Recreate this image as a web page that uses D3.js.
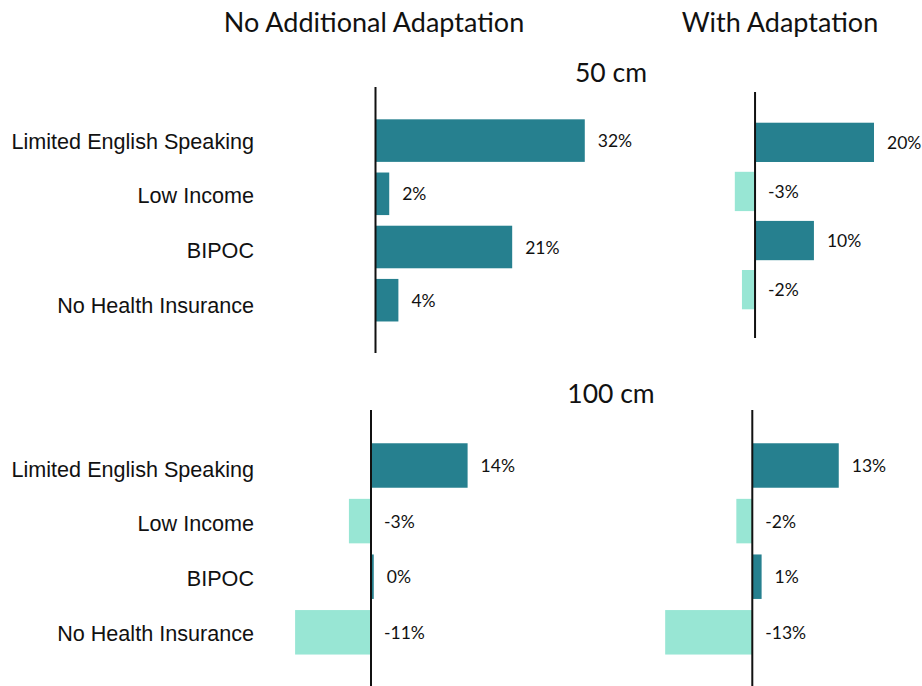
<!DOCTYPE html>
<html>
<head>
<meta charset="utf-8">
<script src="https://cdn.jsdelivr.net/npm/d3@7"></script>
<style>
  body { margin: 0; background: #fff; }
  svg { display: block; }
</style>
</head>
<body>
<div class="chart"></div>
<script>
// data (percent change)
var categories = ["Limited English Speaking", "Low Income", "BIPOC", "No Health Insurance"];
var noAdapt50 = [32.0, 2.1, 20.9, 3.5];
var withAdapt50 = [20.0, -3.4, 9.9, -2.2];
var noAdapt100 = [14.0, -3.2, 0.4, -11.0];
var withAdapt100 = [13.0, -2.4, 1.4, -13.1];
var columnTitles = ["No Additional Adaptation", "With Adaptation"];
var rowTitles = ["50 cm", "100 cm"];

function init() {
  var w = 922;
  var h = 686;
  var darkColor = "#26808f";
  var lightColor = "#98e6d4";
  var valueFont = "Lato, 'Open Sans', sans-serif";

  var svg = d3.select(".chart")
    .append("svg")
    .attr("width", w)
    .attr("height", h);

  // each small chart has its own axis position and scale (like the original)
  var panels = [
    { values: noAdapt50, domain: [0, 35], range: [375.5, 604.4], band: [114, 326.8], axis: [87, 353] },
    { values: withAdapt50, domain: [-5, 22], range: [725.3, 885.9], band: [117.8, 314.2], axis: [92, 338] },
    { values: noAdapt100, domain: [-12, 16], range: [288.2, 481.4], band: [437.7, 660.1], axis: [410, 686] },
    { values: withAdapt100, domain: [-14, 14], range: [659.2, 845.4], band: [437.7, 660.1], axis: [410, 686] }
  ];

  panels.forEach(function(p) {
    var xScale = d3.scaleLinear().domain(p.domain).range(p.range);
    var yScale = d3.scaleBand()
      .domain(categories)
      .range(p.band)
      .paddingInner(0.2)
      .paddingOuter(0.1);

    var rows = categories.map(function(c, i) {
      return { cat: c, value: p.values[i] };
    });

    var g = svg.append("g");

    g.selectAll("rect")
      .data(rows)
      .enter()
      .append("rect")
      .attr("x", function(d) { return xScale(Math.min(0, d.value)); })
      .attr("y", function(d) { return yScale(d.cat); })
      .attr("width", function(d) { return Math.abs(xScale(d.value) - xScale(0)); })
      .attr("height", yScale.bandwidth())
      .style("fill", function(d) { return d.value < 0 ? lightColor : darkColor; });

    g.selectAll(".value-label")
      .data(rows)
      .enter()
      .append("text")
      .attr("class", "value-label")
      .attr("x", function(d) { return xScale(Math.max(0, d.value)) + 13; })
      .attr("y", function(d) { return yScale(d.cat) + yScale.bandwidth() / 2; })
      .attr("dominant-baseline", "central")
      .style("font-family", valueFont)
      .style("font-size", "17.5px")
      .style("fill", "#111")
      .text(function(d) { return Math.round(d.value) + "%"; });

    // vertical zero line
    g.append("line")
      .attr("x1", xScale(0))
      .attr("x2", xScale(0))
      .attr("y1", p.axis[0])
      .attr("y2", p.axis[1])
      .style("stroke", "#111")
      .style("stroke-width", 2);
  });

  // category labels on the left, one set per row
  var labelRows = [[141, 305], [469, 633]];
  labelRows.forEach(function(r) {
    var yLabel = d3.scalePoint().domain(categories).range(r);
    svg.append("g")
      .selectAll("text")
      .data(categories)
      .enter()
      .append("text")
      .attr("x", 254)
      .attr("y", function(d) { return yLabel(d); })
      .attr("text-anchor", "end")
      .attr("dominant-baseline", "central")
      .style("font-family", "'Liberation Sans', Arial, sans-serif")
      .style("font-size", "21.6px")
      .style("fill", "#111")
      .text(function(d) { return d; });
  });

  // column titles
  var titleX = [374, 780];
  svg.selectAll(".col-title")
    .data(columnTitles)
    .enter()
    .append("text")
    .attr("class", "col-title")
    .attr("x", function(d, i) { return titleX[i]; })
    .attr("y", 21)
    .attr("text-anchor", "middle")
    .attr("dominant-baseline", "central")
    .style("font-family", valueFont)
    .style("font-size", "27px")
    .style("fill", "#111")
    .text(function(d) { return d; });

  // row titles
  var rowY = [72, 393];
  svg.selectAll(".row-title")
    .data(rowTitles)
    .enter()
    .append("text")
    .attr("class", "row-title")
    .attr("x", 611)
    .attr("y", function(d, i) { return rowY[i]; })
    .attr("text-anchor", "middle")
    .attr("dominant-baseline", "central")
    .style("font-family", valueFont)
    .style("font-size", "26.5px")
    .style("fill", "#111")
    .text(function(d) { return d; });
}

window.onload = init;
</script>
</body>
</html>
